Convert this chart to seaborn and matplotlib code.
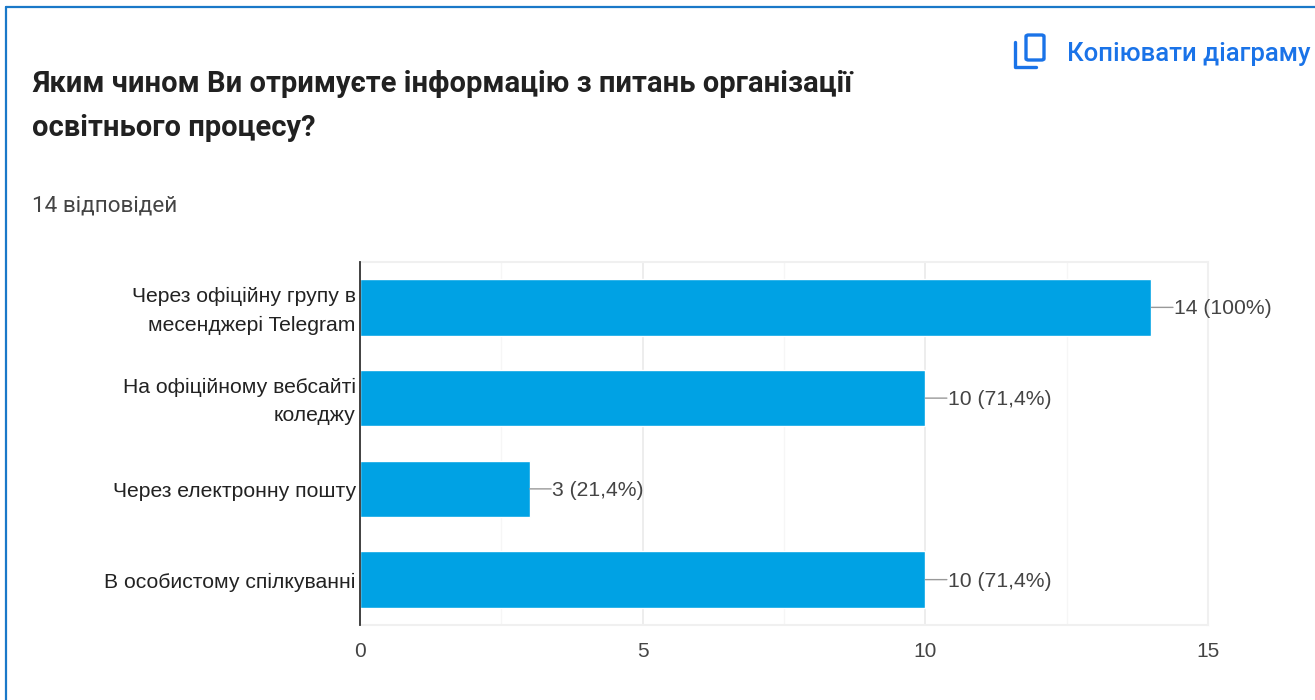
import matplotlib
matplotlib.use("Agg")
import matplotlib.pyplot as plt
from matplotlib.lines import Line2D
from matplotlib.patches import FancyBboxPatch
from matplotlib.transforms import ScaledTranslation
import pandas as pd
import seaborn as sns

W, H = 1315, 700

categories = [
    "Через офіційну групу в\nмесенджері Telegram",
    "На офіційному вебсайті\nколеджу",
    "Через електронну пошту",
    "В особистому спілкуванні",
]
values = [14, 10, 3, 10]
value_labels = ["14 (100%)", "10 (71,4%)", "3 (21,4%)", "10 (71,4%)"]
x_ticks = [0, 5, 10, 15]
x_minor = [2.5, 7.5, 12.5]

title = "Яким чином Ви отримуєте інформацію з питань організації\nосвітнього процесу?"
subtitle = "14 відповідей"
copy_text = "Копіювати діаграму"

sns.set_theme(style="white")
plt.rcParams["font.family"] = ["Liberation Sans", "DejaVu Sans"]

frame = pd.DataFrame({"cat": categories, "val": values})

fig = plt.figure(figsize=(W / 100, H / 100), dpi=100, facecolor="white")
ax = fig.add_axes([360 / W, 1 - 625 / H, (1208 - 360) / W, (625 - 262) / H])

sns.barplot(data=frame, x="val", y="cat", color="#00a2e4", saturation=1,
            width=0.62, ax=ax, zorder=3)

ax.set_xlim(0, 15)
ax.set_ylim(3.5, -0.5)
ax.set_xlabel("")
ax.set_ylabel("")
ax.set_xticks(x_ticks)
ax.set_xticks(x_minor, minor=True)
ax.grid(True, axis="x", which="major", color="#ececec", lw=1.3, zorder=0)
ax.grid(True, axis="x", which="minor", color="#f6f6f6", lw=1.0, zorder=0)
ax.tick_params(axis="x", which="both", length=0, pad=12, labelsize=15, labelcolor="#444444")
ax.tick_params(axis="y", length=0, pad=3, labelsize=15.2, labelcolor="#222222")
for lab in ax.get_yticklabels():
    lab.set_horizontalalignment("right")
    lab.set_linespacing(1.62)
    # two-line labels sit a little above the bar centre
    shift = 3 if "\n" in lab.get_text() else -1
    lab.set_transform(lab.get_transform() + ScaledTranslation(0, shift / 100, fig.dpi_scale_trans))

for side in ["top", "right", "bottom"]:
    ax.spines[side].set_color("#f0f0f0")
    ax.spines[side].set_linewidth(1.5)
ax.spines["left"].set_color("#333333")
ax.spines["left"].set_linewidth(1.3)
ax.spines["left"].set_zorder(5)

# leader lines and labels next to the bars
for i, (v, txt) in enumerate(zip(values, value_labels)):
    ax.annotate("", xy=(v, i), xytext=(15.5, 0), textcoords="offset points",
                arrowprops=dict(arrowstyle="-", color="#999999", lw=1, shrinkA=0, shrinkB=0),
                zorder=4, annotation_clip=False)
    ax.annotate(txt, xy=(v, i), xytext=(16, -1), textcoords="offset points",
                ha="left", va="center", fontsize=15.2, color="#444444",
                annotation_clip=False, zorder=4)

# header texts
fig.text(32 / W, 1 - 84 / H, title.split("\n")[0], family="Roboto", weight="bold",
         fontsize=21, color="#212121", va="center")
fig.text(32 / W, 1 - 128 / H, title.split("\n")[1], family="Roboto", weight="bold",
         fontsize=21, color="#212121", va="center")
fig.text(32 / W, 1 - 206 / H, subtitle, family="Roboto", fontsize=16.2,
         color="#444444", va="center")
fig.text(1067 / W, 1 - 54 / H, copy_text, family="Roboto", weight="medium",
         fontsize=18.5, color="#1a73e8", va="center")


def px_line(xs, ys, color, lw):
    fig.add_artist(Line2D([x / W for x in xs], [1 - y / H for y in ys],
                          color=color, lw=lw, solid_capstyle="round",
                          solid_joinstyle="round"))


# copy icon
icon = "#1a73e8"
fig.add_artist(FancyBboxPatch((1026 / W, 1 - 60 / H), 18 / W, 25 / H,
                              boxstyle="round,pad=0,rounding_size=0.002",
                              fill=False, ec=icon, lw=2.4))
px_line([1015, 1015, 1036], [42, 67, 67], icon, 2.4)

# card border
px_line([6, 6], [7, 700], "#1a78c8", 1.6)
px_line([6, 1315], [7, 7], "#1a78c8", 1.6)

fig.savefig("out.png", dpi=100, facecolor="white")
